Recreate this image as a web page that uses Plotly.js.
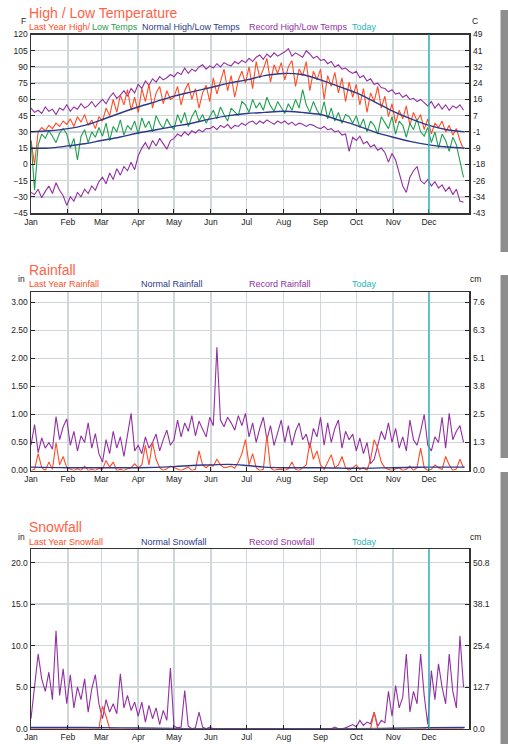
<!DOCTYPE html>
<html><head><meta charset="utf-8">
<script src="https://cdn.plot.ly/plotly-3.0.1.min.js"></script>
<style>
html,body{margin:0;padding:0;background:#fff;overflow:hidden;width:508px;height:744px;}
#chart{position:absolute;left:0;top:0;width:508px;height:744px;}
.strip{position:absolute;left:500px;width:8px;background:#8e8e8e;border-left:1px solid #c8c8c8;box-sizing:border-box;}
</style></head><body>
<div id="chart"></div>
<div class="strip" style="top:10px;height:242px"></div>
<div class="strip" style="top:275px;height:183px"></div>
<div class="strip" style="top:472px;height:272px"></div>
<script>
// ---------- data ----------
const monthNames = ['Jan','Feb','Mar','Apr','May','Jun','Jul','Aug','Sep','Oct','Nov','Dec'];
const monthStartDays = [0,31,59,90,120,151,181,212,243,273,304,334];
const todayDay = 334;
const stepDays = 3;

const tempTicksF = [-45,-30,-15,0,15,30,45,60,75,90,105,120];
const tempTicksC = ['-43','-34','-26','-18','-9','-1','7','16','24','32','41','49'];
const rainTicksIn = [0,0.5,1,1.5,2,2.5,3];
const rainTicksCm = ['0.0','1.3','2.5','3.8','5.1','6.3','7.6'];
const snowTicksIn = [0,5,10,15,20];
const snowTicksCm = ['0.0','12.7','25.4','38.1','50.8'];

const recordHigh = [
52,48,50,47,53,49,51,46,52,50,
55,49,53,51,56,52,54,58,53,57,
60,56,62,66,61,64,68,63,70,66,
74,70,77,73,79,76,81,78,80,83,
81,85,83,89,84,88,86,90,92,88,
91,89,93,90,94,92,91,95,93,96,
94,98,95,99,101,97,102,99,103,100,
102,104,107,100,103,101,99,105,102,98,
100,96,97,93,95,90,92,88,89,86,
84,86,80,82,77,79,74,75,71,70,
67,69,65,66,62,64,60,61,58,60,
57,54,58,52,56,51,55,50,54,52,
55,50];
const recordLow = [
-26,-28,-23,-31,-25,-20,-27,-17,-24,-29,
-38,-30,-34,-26,-30,-23,-27,-20,-24,-16,
-12,-18,-8,-14,-4,-10,-2,-6,2,-5,
8,15,20,14,22,17,24,19,14,22,
24,28,26,30,27,31,29,32,30,33,
33,35,32,36,34,37,33,36,35,38,
36,39,40,37,40,38,41,39,37,40,
38,40,37,39,36,38,37,35,37,36,
34,33,35,32,33,30,31,27,28,12,
25,22,26,19,21,16,18,13,15,11,
2,10,4,-8,-20,-26,-12,-6,-2,-15,
-18,-14,-20,-16,-22,-19,-25,-21,-28,-23,
-34,-35];
const lastYearHigh = [
22,0,30,34,31,36,33,38,35,40,
37,42,35,44,39,46,36,41,33,44,
40,52,45,60,48,64,55,69,50,62,
48,70,58,74,52,66,72,56,68,60,
62,72,55,68,75,60,70,52,66,73,
58,80,65,76,88,68,82,62,78,86,
75,90,70,95,80,88,98,76,92,84,
94,78,90,96,72,88,82,95,68,86,
78,88,60,82,72,85,66,80,58,76,
62,74,55,70,48,66,58,72,52,63,
44,56,38,50,42,54,36,48,40,46,
32,42,28,38,34,40,30,36,27,33,
22,14];
const lastYearLow = [
22,-24,18,28,24,31,26,20,29,33,
28,15,24,4,26,32,20,30,25,34,
26,38,22,35,30,41,27,36,32,40,
28,43,34,40,30,45,38,33,42,36,
32,46,38,48,35,44,50,40,46,38,
44,50,42,53,46,40,52,48,45,58,
55,48,60,52,57,50,62,54,49,58,
53,47,56,50,60,52,69,55,48,58,
50,45,58,42,52,40,48,38,46,44,
38,45,34,42,30,40,36,28,44,38,
33,44,28,40,36,25,38,32,42,30,
26,34,20,30,15,28,22,12,25,18,
2,-12];
const normalDays = [0,15,31,45,59,74,90,105,120,135,151,166,181,196,212,227,243,258,273,288,304,319,334,349,364];
const normalHigh = [30,31,33,36,41,47,53,58,63,67,71,75,78,82,84,83,78,72,66,58,49,42,36,32,30];
const normalLow  = [15,15,17,19,22,25,29,32,35,38,42,45,47,48,49,48,46,41,36,30,25,21,18,16,15];

const recordRain = [
0.45,0.82,0.32,0.58,0.40,0.50,0.38,0.96,0.55,0.78,
0.92,0.45,0.70,0.35,0.62,0.50,0.85,0.40,0.66,0.30,
0.15,0.55,0.30,0.70,0.40,0.60,0.25,0.65,1.02,0.35,
0.45,0.30,0.60,0.40,0.50,0.65,0.35,0.55,0.72,0.45,
0.55,0.90,0.60,0.85,0.70,0.98,0.62,0.88,0.75,0.60,
0.95,0.80,2.20,0.90,0.78,0.95,0.85,0.72,0.98,0.80,
1.02,0.60,0.85,0.50,0.75,0.95,0.55,0.80,0.45,0.70,
0.90,0.50,0.80,0.45,0.70,0.85,0.55,0.65,0.40,0.75,
0.60,0.95,0.45,0.85,0.50,0.75,0.90,0.40,0.70,0.55,
0.65,0.35,0.58,0.30,0.50,0.12,0.20,0.45,0.70,0.55,
0.85,0.50,0.75,0.40,0.60,0.35,0.90,0.55,0.45,0.70,
1.00,0.45,0.35,0.60,0.50,0.95,0.40,1.02,0.55,0.70,
0.80,0.50];
const lastYearRain = [
0,0.02,0.30,0.05,0,0.15,0.02,0.50,0.10,0.25,
0.05,0.02,0,0.03,0,0.08,0,0.02,0,0.04,
0.02,0.18,0.06,0.15,0,0.02,0,0.03,0.05,0.12,
0.05,0.10,0.45,0.10,0.50,0.20,0.05,0,0.03,0.08,
0.05,0.02,0,0.03,0.06,0,0.02,0.35,0.10,0.05,
0.10,0.08,0.20,0.10,0.05,0.06,0.08,0.04,0.15,0.30,
0.55,0.10,0.30,0.05,0,0.02,0.63,0.05,0,0.02,
0.02,0,0.03,0.15,0.02,0,0.05,0.10,0.50,0.20,
0.35,0.10,0.02,0.15,0.28,0.05,0.10,0.25,0.05,0,
0.05,0.10,0.02,0.05,0,0.20,0.55,0.40,0.15,0.05,
0.02,0,0.03,0.05,0,0.02,0.08,0,0.05,0.40,
0.05,0,0.02,0.10,0.05,0.02,0.25,0.10,0,0.03,
0.20,0.05];
const normalRainDays = [0,31,59,90,120,135,151,166,181,196,212,243,273,304,334,364];
const normalRain = [0.06,0.05,0.05,0.05,0.07,0.09,0.10,0.11,0.09,0.06,0.05,0.05,0.04,0.05,0.06,0.06];

const recordSnow = [
1.2,5.5,9.0,6.0,4.5,6.8,3.5,11.8,4.0,7.2,
3.0,6.5,2.5,5.0,3.5,6.0,2.0,4.8,6.5,3.0,
1.2,3.5,2.0,3.0,1.8,6.6,2.5,4.0,2.2,3.2,
1.5,3.2,0.8,2.8,1.2,2.5,0.5,2.2,1.0,7.3,
0.3,0.1,0.2,4.6,0.3,0,0.1,2.0,0.2,0,
0.2,0,0,0,0,0,0,0,0,0,
0,0,0,0,0,0,0,0,0,0,
0,0,0,0,0,0,0,0,0,0,
0,0,0,0,0,0.2,0,0,0.1,0.3,
0.5,0.2,1.0,0.4,0.8,0.6,2.0,0.3,1.0,0.7,
4.5,1.5,5.2,2.5,3.8,9.0,2.0,4.5,3.0,9.0,
4.0,0.5,7.0,3.5,7.8,5.0,3.0,9.0,4.5,2.5,
11.2,5.0];
const lastYearSnow = [
0,0,0,0,0,0,0,0,0,0,
0,0,0,0,0,0,0,0,0,0,
2.7,1.5,0,0,0,0,0,0,0,0,
0,0,0,0,0,0,0,0,0,0,
0,0,0,0,0,0,0,0,0,0,
0,0,0,0,0,0,0,0,0,0,
0,0,0,0,0,0,0,0,0,0,
0,0,0,0,0,0,0,0,0,0,
0,0,0,0,0,0,0,0,0,0,
0,0,0,0,0,0,2.0,0,0,0,
0,0,0,0,0,0,0,0,0,0,
0,0.2,0,0,0,0,0,0,0,0,
0,0];
const normalSnowDays = [0,31,59,90,120,151,273,304,334,364];
const normalSnow = [0.15,0.15,0.12,0.08,0.02,0,0,0.05,0.12,0.15];

// ---------- styling ----------
const FONT = '"Liberation Sans", Arial, sans-serif';
const C_RED = '#ff4d26', C_GREEN = '#1fa04e', C_NAVY = '#2d3a8c', C_PURPLE = '#922fa2', C_TEAL = '#2ab3b8';
const C_TITLE = '#ff6347', C_GRID = '#cfd7db';
const W = 508, H = 744, ML = 31, MR = 39;
const PW = W - ML - MR;
const px = v => (v - ML) / PW;
const py = v => 1 - v / H;

const stepX = arr => arr.map((_, i) => i * stepDays);

function line(x, y, color, xa, ya, width, shape) {
  return {type:'scatter', mode:'lines', x, y, xaxis:xa, yaxis:ya,
    line:{color, width: width || 1.1, shape: shape || 'linear'}, showlegend:false, hoverinfo:'skip'};
}
function dummy(xa, ya) {
  return {type:'scatter', mode:'lines', x:[null], y:[null], xaxis:xa, yaxis:ya, showlegend:false, hoverinfo:'skip'};
}

const traces = [
  line(stepX(recordHigh), recordHigh, C_PURPLE, 'x', 'y'),
  line(stepX(recordLow), recordLow, C_PURPLE, 'x', 'y'),
  line(stepX(lastYearHigh), lastYearHigh, C_RED, 'x', 'y'),
  line(stepX(lastYearLow), lastYearLow, C_GREEN, 'x', 'y'),
  line(normalDays, normalHigh, C_NAVY, 'x', 'y', 1.4, 'spline'),
  line(normalDays, normalLow, C_NAVY, 'x', 'y', 1.4, 'spline'),
  dummy('x', 'y2'),
  line(stepX(recordRain), recordRain, C_PURPLE, 'x2', 'y3'),
  line(stepX(lastYearRain), lastYearRain, C_RED, 'x2', 'y3'),
  line(normalRainDays, normalRain, C_NAVY, 'x2', 'y3', 1.4, 'spline'),
  dummy('x2', 'y4'),
  line(stepX(recordSnow), recordSnow, C_PURPLE, 'x3', 'y5'),
  line(stepX(lastYearSnow), lastYearSnow, C_RED, 'x3', 'y5'),
  line(normalSnowDays, normalSnow, C_NAVY, 'x3', 'y5', 1.4, 'spline'),
  dummy('x3', 'y6')
];

const tickFont = {family:FONT, size:8.5, color:'#222'};
function xAxis(anchor) {
  return {domain:[0,1], anchor, range:[0,367.6], tickmode:'array', tickvals:monthStartDays, ticktext:monthNames,
    showgrid:true, gridcolor:C_GRID, gridwidth:1.5, ticks:'inside', ticklen:4, tickcolor:'#222',
    showline:true, linecolor:'#333', linewidth:1.5, mirror:true, zeroline:false, tickfont:tickFont, fixedrange:true};
}
function yLeft(anchor, domain, range, tickvals, fmt) {
  return {domain, anchor, range, tickmode:'array', tickvals, tickformat:fmt,
    showgrid:true, gridcolor:C_GRID, gridwidth:1.5, ticks:'inside', ticklen:4, tickcolor:'#222',
    showline:true, linecolor:'#333', linewidth:1.5, mirror:true, zeroline:false, tickfont:tickFont, fixedrange:true};
}
function yRight(anchor, over, range, tickvals, ticktext) {
  return {overlaying:over, side:'right', anchor, range, tickmode:'array', tickvals, ticktext,
    showgrid:false, ticks:'inside', ticklen:4, tickcolor:'#222', showline:false, zeroline:false,
    ticklabelstandoff:3, tickfont:tickFont, fixedrange:true};
}

const D1 = [py(213), py(34.5)], D2 = [py(470.5), py(292.3)], D3 = [py(728.7), py(549.3)];

function ann(text, x, y, color, size, xanchor) {
  return {text, x:px(x), y:py(y), xref:'paper', yref:'paper', xanchor: xanchor || 'left', yanchor:'middle',
    showarrow:false, borderpad:0, borderwidth:0, font:{family:FONT, size, color}};
}
const annotations = [
  ann('High / Low Temperature', 29, 13, C_TITLE, 14),
  ann('F', 23.5, 21, '#222', 8.5, 'center'),
  ann('C', 475, 21, '#222', 8.5, 'center'),
  ann('Last Year High/', 29.3, 27, C_RED, 9),
  ann('Low Temps', 91.7, 27, C_GREEN, 9),
  ann('Normal High/Low Temps', 141.7, 27, C_NAVY, 9),
  ann('Record High/Low Temps', 249.3, 27, C_PURPLE, 9),
  ann('Today', 352.3, 27, C_TEAL, 9),

  ann('Rainfall', 29, 269.5, C_TITLE, 14),
  ann('in', 21, 279, '#222', 8.5, 'center'),
  ann('cm', 476, 279, '#222', 8.5, 'center'),
  ann('Last Year Rainfall', 29.3, 284.5, C_RED, 9),
  ann('Normal Rainfall', 141, 284.5, C_NAVY, 9),
  ann('Record Rainfall', 249, 284.5, C_PURPLE, 9),
  ann('Today', 352.3, 284.5, C_TEAL, 9),

  ann('Snowfall', 29, 526.5, C_TITLE, 14),
  ann('in', 21.7, 536.7, '#222', 8.5, 'center'),
  ann('cm', 476, 536.7, '#222', 8.5, 'center'),
  ann('Last Year Snowfall', 29.3, 542.3, C_RED, 9),
  ann('Normal Snowfall', 141, 542.3, C_NAVY, 9),
  ann('Record Snowfall', 249, 542.3, C_PURPLE, 9),
  ann('Today', 352.3, 542.3, C_TEAL, 9)
];

function todayShape(xref, yref) {
  return {type:'line', xref, yref:yref + ' domain', x0:todayDay, x1:todayDay, y0:0, y1:1,
    line:{color:C_TEAL, width:1.3}, layer:'above'};
}

const layout = {
  width:W, height:H, margin:{l:ML, r:MR, t:0, b:0, pad:0},
  paper_bgcolor:'#fff', plot_bgcolor:'#fff', showlegend:false, hovermode:false,
  font:{family:FONT, size:8.5, color:'#222'},
  xaxis: xAxis('y'),
  yaxis: yLeft('x', D1, [-45,120], tempTicksF, 'd'),
  yaxis2: yRight('x', 'y', [-45,120], tempTicksF, tempTicksC),
  xaxis2: xAxis('y3'),
  yaxis3: yLeft('x2', D2, [0,3.18], rainTicksIn, '.2f'),
  yaxis4: yRight('x2', 'y3', [0,3.18], rainTicksIn, rainTicksCm),
  xaxis3: xAxis('y5'),
  yaxis5: yLeft('x3', D3, [0,21.6], snowTicksIn, '.1f'),
  yaxis6: yRight('x3', 'y5', [0,21.6], snowTicksIn, snowTicksCm),
  shapes:[todayShape('x','y'), todayShape('x2','y3'), todayShape('x3','y5')],
  annotations
};

Plotly.newPlot('chart', traces, layout, {staticPlot:true, displayModeBar:false});
</script></body></html>
